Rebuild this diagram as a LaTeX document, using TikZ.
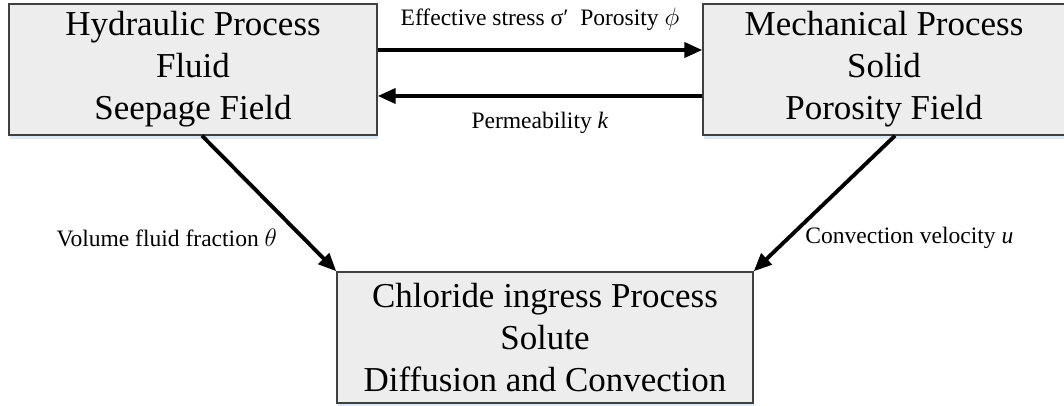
\documentclass[tikz,border=0pt]{standalone}
\usepackage{fontspec}
\setmainfont{Liberation Serif}
\usetikzlibrary{arrows.meta,positioning,shadows}
\usepackage{xcolor}
\definecolor{procFill}{HTML}{EDEDED}
\definecolor{procEdge}{HTML}{404040}
\definecolor{procShade}{HTML}{DCE8F6}

\begin{document}
\begin{tikzpicture}[>={Triangle[length=3.6mm,width=3mm]},
  proc/.style={draw=procEdge,line width=.8pt,fill=procFill,minimum height=2.62cm,align=center,
    font=\fontsize{19.9}{23.9}\selectfont,execute at begin node=\rule{0pt}{.62cm},
    drop shadow={shadow xshift=.02cm,shadow yshift=-.08cm,fill=procShade,opacity=1}},
  flow/.style={->,line width=2.2pt},
  lbl/.style={font=\fontsize{13.4}{16}\selectfont}]
\useasboundingbox (0,0) rectangle (21.28,8.12);
% the three coupled processes
\node[proc,minimum width=7.36cm] (hyd) at (3.86,6.73) {Hydraulic Process\\Fluid\\Seepage Field};
\node[proc,minimum width=7.24cm] (mech) at (17.68,6.73) {Mechanical Process\\Solid\\Porosity Field};
\node[proc,minimum width=8.32cm] (chl) at (10.9,1.37) {Chloride ingress Process\\Solute\\Diffusion and Convection};
% couplings between them
\draw[flow] ([yshift=.39cm]hyd.east) -- ([yshift=.39cm]mech.west)
  node[lbl,midway,above=.23cm] (lsig) {Effective stress σ′\enspace Porosity $\phi$};
\draw[flow] ([yshift=-.53cm]mech.west) -- ([yshift=-.53cm]hyd.east)
  node[lbl,midway,below=.16cm] (lperm) {Permeability \textit{k}};
\draw[flow] ([xshift=.18cm]hyd.south) -- (chl.north west)
  node[lbl,pos=.75,left=.36cm] (ltheta) {Volume fluid fraction $\theta$};
\draw[flow] ([xshift=.22cm]mech.south) -- (chl.north east)
  node[lbl,pos=.75,right=.17cm] (lu) {Convection velocity \textit{u}};
\end{tikzpicture}
\end{document}
